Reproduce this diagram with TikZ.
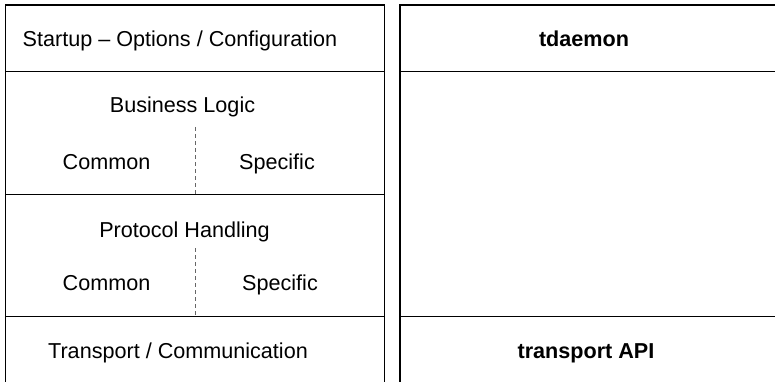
\documentclass[tikz,border=0pt]{standalone}
\usepackage{fontspec}
\setmainfont{Liberation Sans}

\begin{document}
\begin{tikzpicture}[x=1pt,y=-1pt]
    \tikzstyle{frame}=[line width=1.5pt]
    \tikzstyle{layer}=[line width=1pt]
    \tikzstyle{split}=[line width=0.9pt,gray!80!black,dash pattern=on 4pt off 3pt]
    \tikzstyle{every node}=[inner sep=0pt,anchor=base,font=\fontsize{21.6}{26}\selectfont]
    \useasboundingbox (0,0) rectangle (775,382);
    % left stack
    \draw[frame] (5.5,382) -- (5.5,5) -- (384.5,5) -- (384.5,382);
    \draw[layer] (5.5,72) -- (384.5,72);
    \draw[layer] (5.5,194) -- (384.5,194);
    \draw[layer] (5.5,316) -- (384.5,316);
    \draw[split] (195.5,127) -- (195.5,194);
    \draw[split] (195.5,248) -- (195.5,316);
    \node (startup) at (180,47) {Startup -- Options / Configuration};
    \node (logic) at (182.5,113) {Business Logic};
    \node (logiccommon) at (106.5,169) {Common};
    \node (logicspecific) at (277,169) {Specific};
    \node (proto) at (184.5,237) {Protocol Handling};
    \node (protocommon) at (106.5,290) {Common};
    \node (protospecific) at (280,290) {Specific};
    \node (transport) at (178,358.5) {Transport / Communication};
    % right stack
    \draw[frame] (400,382) -- (400,5) -- (780,5);
    \draw[layer] (400,72) -- (780,72);
    \draw[layer] (400,316) -- (780,316);
    \node[font=\fontsize{21.6}{26}\selectfont\bfseries] (tdaemon) at (584,47) {tdaemon};
    \node[font=\fontsize{21.6}{26}\selectfont\bfseries] (api) at (586,358.5) {transport API};
\end{tikzpicture}
\end{document}
